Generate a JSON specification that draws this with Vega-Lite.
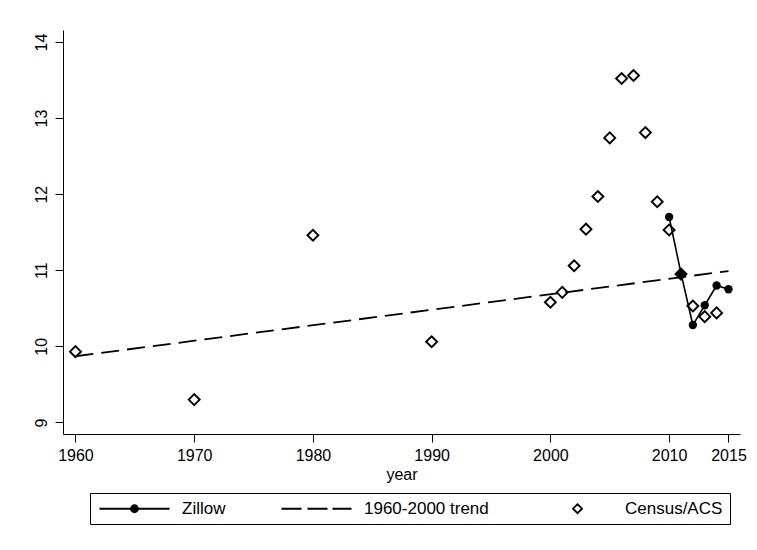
{
  "$schema": "https://vega.github.io/schema/vega-lite/v6.json",
  "width": 677,
  "height": 404,
  "autosize": {"type": "none"},
  "padding": {"left": 63, "top": 30, "right": 17, "bottom": 116},
  "background": "white",
  "config": {
    "view": {"stroke": null},
    "font": "Liberation Sans",
    "axis": {
      "domainColor": "black",
      "domainWidth": 1,
      "tickColor": "black",
      "tickWidth": 1,
      "tickSize": 8,
      "grid": false,
      "labelFont": "Liberation Sans",
      "labelFontSize": 16,
      "labelColor": "black",
      "titleFont": "Liberation Sans",
      "titleFontSize": 16,
      "titleFontWeight": "normal",
      "titleColor": "black"
    },
    "legend": {
      "orient": "none",
      "legendX": 27,
      "legendY": 463,
      "direction": "horizontal",
      "columns": 3,
      "strokeColor": "black",
      "fillColor": "white",
      "padding": 7,
      "cornerRadius": 0,
      "columnPadding": 51,
      "labelOffset": 68,
      "labelFont": "Liberation Sans",
      "labelFontSize": 17,
      "labelColor": "black",
      "labelLimit": 300,
      "symbolSize": 100,
      "symbolStrokeWidth": 1.8,
      "symbolStrokeColor": "black",
      "symbolOpacity": 1
    }
  },
  "data": {
    "values": [
      {"year": 1960, "value": 9.93, "series": "Census/ACS"},
      {"year": 1970, "value": 9.30, "series": "Census/ACS"},
      {"year": 1980, "value": 11.46, "series": "Census/ACS"},
      {"year": 1990, "value": 10.06, "series": "Census/ACS"},
      {"year": 2000, "value": 10.58, "series": "Census/ACS"},
      {"year": 2001, "value": 10.71, "series": "Census/ACS"},
      {"year": 2002, "value": 11.06, "series": "Census/ACS"},
      {"year": 2003, "value": 11.54, "series": "Census/ACS"},
      {"year": 2004, "value": 11.97, "series": "Census/ACS"},
      {"year": 2005, "value": 12.74, "series": "Census/ACS"},
      {"year": 2006, "value": 13.52, "series": "Census/ACS"},
      {"year": 2007, "value": 13.56, "series": "Census/ACS"},
      {"year": 2008, "value": 12.81, "series": "Census/ACS"},
      {"year": 2009, "value": 11.90, "series": "Census/ACS"},
      {"year": 2010, "value": 11.53, "series": "Census/ACS"},
      {"year": 2011, "value": 10.95, "series": "Census/ACS"},
      {"year": 2012, "value": 10.53, "series": "Census/ACS"},
      {"year": 2013, "value": 10.39, "series": "Census/ACS"},
      {"year": 2014, "value": 10.44, "series": "Census/ACS"},
      {"year": 2010, "value": 11.70, "series": "Zillow"},
      {"year": 2011, "value": 10.96, "series": "Zillow"},
      {"year": 2012, "value": 10.28, "series": "Zillow"},
      {"year": 2013, "value": 10.54, "series": "Zillow"},
      {"year": 2014, "value": 10.80, "series": "Zillow"},
      {"year": 2015, "value": 10.75, "series": "Zillow"},
      {"year": 1960, "value": 9.87, "series": "1960-2000 trend"},
      {"year": 2015, "value": 10.99, "series": "1960-2000 trend"}
    ]
  },
  "encoding": {
    "x": {
      "field": "year",
      "type": "quantitative",
      "scale": {"domain": [1958.95, 2015.97], "nice": false, "zero": false},
      "axis": {
        "values": [1960, 1970, 1980, 1990, 2000, 2010, 2015],
        "format": "d",
        "title": "year",
        "labelPadding": 5,
        "titlePadding": 3
      }
    },
    "y": {
      "field": "value",
      "type": "quantitative",
      "scale": {"domain": [8.848, 14.158], "nice": false, "zero": false},
      "axis": {
        "values": [9, 10, 11, 12, 13, 14],
        "format": "d",
        "title": null,
        "labelAngle": 270,
        "labelAlign": "center",
        "labelBaseline": "bottom",
        "labelPadding": 6
      }
    }
  },
  "layer": [
    {
      "transform": [{"filter": "datum.series == 'Zillow'"}],
      "mark": {"type": "line", "color": "black", "strokeWidth": 1.6},
      "encoding": {}
    },
    {
      "transform": [{"filter": "datum.series == 'Zillow'"}],
      "mark": {"type": "point", "shape": "circle", "filled": true, "color": "black", "size": 70, "opacity": 1},
      "encoding": {}
    },
    {
      "transform": [{"filter": "datum.series == '1960-2000 trend'"}],
      "mark": {"type": "line", "color": "black", "strokeWidth": 1.8, "strokeDash": [18, 8]},
      "encoding": {}
    },
    {
      "transform": [{"filter": "datum.series == 'Census/ACS'"}],
      "mark": {"type": "point", "shape": "diamond", "filled": false, "color": "black", "strokeWidth": 1.9, "size": 120, "opacity": 1},
      "encoding": {}
    },
    {
      "mark": {"type": "point", "opacity": 0},
      "encoding": {
        "shape": {
          "field": "series",
          "type": "nominal",
          "scale": {
            "domain": ["Zillow", "1960-2000 trend", "Census/ACS"],
            "range": [
              "M-1.2,0L12.8,0M6.5,0A0.7,0.7,0,1,1,5.1,0A0.7,0.7,0,1,1,6.5,0Z",
              "M-1.2,0L2.8,0M4,0L8,0M9,0L12.8,0",
              "M5.8,-0.9L6.7,0L5.8,0.9L4.9,0Z"
            ]
          },
          "legend": {"title": null}
        },
        "fill": {
          "field": "series",
          "type": "nominal",
          "scale": {
            "domain": ["Zillow", "1960-2000 trend", "Census/ACS"],
            "range": ["black", "transparent", "white"]
          },
          "legend": {"title": null}
        },
        "stroke": {
          "field": "series",
          "type": "nominal",
          "scale": {
            "domain": ["Zillow", "1960-2000 trend", "Census/ACS"],
            "range": ["black", "black", "black"]
          },
          "legend": {"title": null}
        }
      }
    }
  ]
}
